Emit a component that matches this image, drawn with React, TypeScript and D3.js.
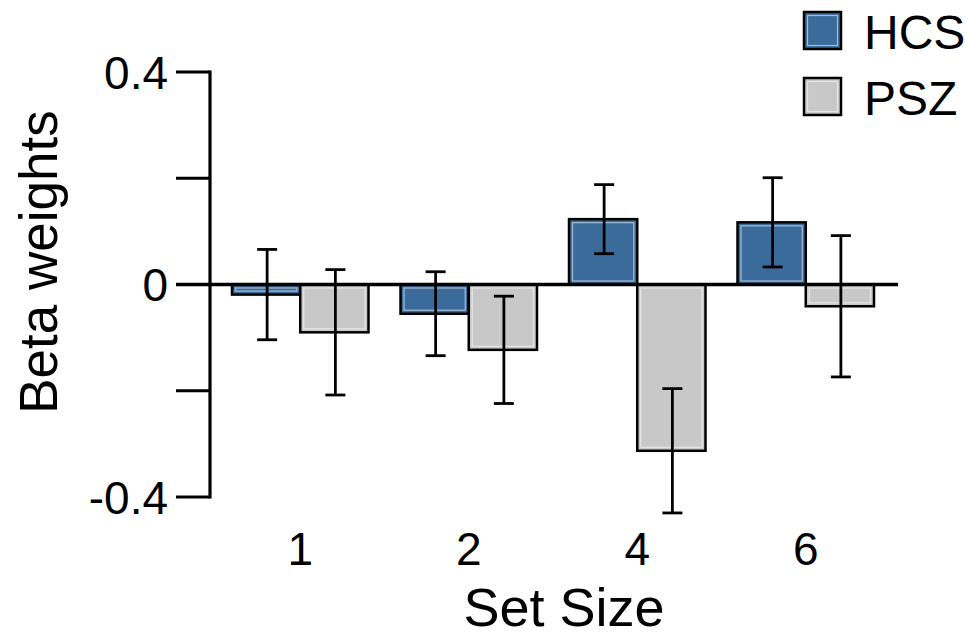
import React from "react";
import * as d3 from "d3";

const categories = ["1", "2", "4", "6"];
const seriesNames = ["HCS", "PSZ"];
const hcsMean = [-0.019, -0.055, 0.123, 0.117];
const hcsErr = [0.085, 0.079, 0.065, 0.084];
const pszMean = [-0.09, -0.123, -0.313, -0.041];
const pszErr = [0.118, 0.101, 0.117, 0.133];
const yTicks = [-0.4, -0.2, 0, 0.2, 0.4];
const yTickLabels = ["-0.4", "", "0", "", "0.4"];

const colors: Record<string, string> = { HCS: "#3b6b9b", PSZ: "#c8c8c8" };
const font = "'Liberation Sans', Arial, sans-serif";

export default function App() {
  const width = 965;
  const height = 639;
  const y = d3.scaleLinear().domain([-0.4, 0.4]).range([497, 72]);
  const x = d3
    .scaleBand()
    .domain(categories)
    .range([216, 890])
    .paddingInner(0.19)
    .paddingOuter(0.095);
  const xs = d3.scaleBand().domain(seriesNames).range([0, x.bandwidth()]);

  const rows = categories.flatMap((c, i) => [
    { cat: c, s: "HCS", m: hcsMean[i], e: hcsErr[i] },
    { cat: c, s: "PSZ", m: pszMean[i], e: pszErr[i] },
  ]);

  const axisX = 210;
  const tickLen = 34;
  const cap = 10;

  return (
    <svg
      width={width}
      height={height}
      style={{ position: "absolute", left: 0, top: 0, background: "#fff" }}
      fontFamily={font}
    >
      {/* bars */}
      {rows.map((r, i) => {
        const bx = (x(r.cat) as number) + (xs(r.s) as number);
        const bw = xs.bandwidth();
        const top = Math.min(y(r.m), y(0));
        const h = Math.abs(y(r.m) - y(0));
        return (
          <g key={i}>
            <rect x={bx} y={top} width={bw} height={h} fill={colors[r.s]} stroke="#000" strokeWidth={2.5} />
            {h > 8 && (
              <rect
                x={bx + 3.5}
                y={top + 3.5}
                width={bw - 7}
                height={h - 7}
                fill="none"
                stroke="#fff"
                strokeOpacity={0.55}
                strokeWidth={1.2}
              />
            )}
          </g>
        );
      })}

      {/* zero line */}
      <line x1={axisX - tickLen} x2={898} y1={y(0)} y2={y(0)} stroke="#000" strokeWidth={3.5} />

      {/* error bars */}
      {rows.map((r, i) => {
        const cx = (x(r.cat) as number) + (xs(r.s) as number) + xs.bandwidth() / 2 + 1;
        const y1 = y(r.m + r.e);
        const y2 = y(r.m - r.e);
        return (
          <g key={"e" + i} stroke="#000" strokeWidth={2.8}>
            <line x1={cx} x2={cx} y1={y1} y2={y2} />
            <line x1={cx - cap} x2={cx + cap} y1={y1} y2={y1} />
            <line x1={cx - cap} x2={cx + cap} y1={y2} y2={y2} />
          </g>
        );
      })}

      {/* y axis */}
      <line x1={axisX} x2={axisX} y1={y(0.4) - 1.5} y2={y(-0.4) + 1.5} stroke="#000" strokeWidth={3.2} />
      {yTicks.map((t, i) => (
        <g key={"t" + i}>
          <line x1={axisX - tickLen} x2={axisX} y1={y(t)} y2={y(t)} stroke="#000" strokeWidth={3} />
          <text x={168} y={y(t)} dy="0.36em" textAnchor="end" fontSize={46} fill="#000">
            {yTickLabels[i]}
          </text>
        </g>
      ))}

      {/* x tick labels */}
      {categories.map((c) => (
        <text
          key={"x" + c}
          x={(x(c) as number) + x.bandwidth() / 2}
          y={565}
          textAnchor="middle"
          fontSize={46}
          fill="#000"
        >
          {c}
        </text>
      ))}

      {/* axis titles */}
      <text x={564} y={626} textAnchor="middle" fontSize={54} fill="#000">
        Set Size
      </text>
      <text
        transform={`translate(57,262) rotate(-90)`}
        textAnchor="middle"
        fontSize={53}
        fill="#000"
      >
        Beta weights
      </text>

      {/* legend */}
      {seriesNames.map((s, i) => (
        <g key={"l" + s} transform={`translate(804,${12 + i * 66})`}>
          <rect width={37} height={37} fill={colors[s]} stroke="#000" strokeWidth={2.5} />
          <rect x={3.5} y={3.5} width={30} height={30} fill="none" stroke="#fff" strokeOpacity={0.55} strokeWidth={1.2} />
          <text x={60} y={37} fontSize={48} fill="#000">
            {s}
          </text>
        </g>
      ))}
    </svg>
  );
}
